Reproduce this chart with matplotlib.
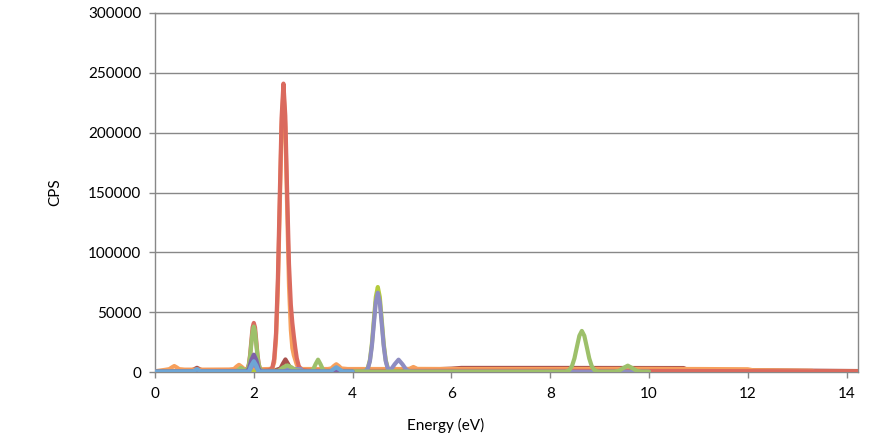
import matplotlib
matplotlib.use("Agg")
import matplotlib.pyplot as plt

plt.rcParams['font.family'] = ['Lato', 'DejaVu Sans']

# ---------------- data (energy in eV, counts per second) ----------------
e_darkred = [0.0, 0.7, 0.78, 0.85, 0.92, 1.0, 2.4, 2.54, 2.59, 2.64, 2.69, 2.74, 2.85,
             5.0, 6.0, 6.2, 8.0, 10.7, 10.8, 12.0, 14.24]
c_darkred = [500, 800, 2000, 3500, 2000, 800, 1000, 3000, 7000, 10500, 7000, 3000, 1200,
             1200, 2800, 3400, 3400, 3300, 1500, 1500, 800]

e_orange = [0.0, 0.2, 0.29, 0.34, 0.39, 0.44, 0.49, 0.6, 1.0, 1.5, 1.6, 1.65, 1.7, 1.75, 1.8,
            1.9, 2.0, 2.1, 2.3, 2.375, 2.4125, 2.45, 2.4875, 2.525, 2.5625, 2.6, 2.6375,
            2.675, 2.7125, 2.75, 2.78, 2.81, 2.84, 2.87, 2.91, 3.0, 3.5, 3.57, 3.62, 3.67,
            3.72, 3.77, 3.9, 5.0, 5.15, 5.23, 5.31, 6.0, 8.0, 10.0, 11.0, 12.0, 12.1,
            13.3, 13.35, 14.24]
c_orange = [600, 1800, 2400, 3800, 5000, 3800, 2400, 2000, 2000, 2100, 2500, 4500, 6000, 4500, 2600,
            2300, 3000, 2300, 2500, 3000, 8100, 27300, 70000, 137000, 205000, 235000, 205000,
            137000, 72000, 35000, 20000, 14000, 10000, 6000, 3000, 2500, 2500, 3000, 5000, 6500,
            5000, 3000, 2500, 2500, 2600, 4200, 2600, 2500, 2500, 2600, 2500, 2300, 1500,
            1000, 300, 300]

e_red = [0.0, 0.5, 1.0, 1.5, 1.8, 1.85, 1.875, 1.9, 1.925, 1.95, 1.975, 2.0, 2.025, 2.05, 2.075,
         2.1, 2.125, 2.15, 2.2, 2.3, 2.34, 2.375, 2.4125, 2.45, 2.4875, 2.525, 2.5625, 2.6,
         2.6375, 2.675, 2.7125, 2.75, 2.78, 2.81, 2.84, 2.87, 2.91, 2.96, 3.0, 3.1, 3.5, 4.0,
         5.0, 6.0, 8.0, 10.0, 12.0, 14.24]
c_red = [400, 800, 900, 900, 1000, 1450, 2800, 6540, 14300, 25900, 37200, 41000, 37200, 25900, 14300,
         6540, 2800, 1450, 1200, 1500, 2200, 3500, 11000, 32500, 78300, 146300, 212600, 241000,
         214000, 150000, 90000, 56000, 41000, 30000, 20000, 11500, 5000, 2000, 1500, 1200, 1000, 900,
         900, 1000, 1000, 900, 700, 500]

e_lime = [0.0, 4.2, 4.27, 4.31, 4.35, 4.39, 4.43, 4.47, 4.51, 4.55, 4.59, 4.63,
          4.67, 4.71, 4.75, 4.85, 5.0]
c_lime = [300, 500, 1280, 3600, 10000, 23400, 43300, 62700, 71000, 62700, 43300, 23400,
          10000, 3600, 1280, 500, 300]

e_lavender = [0.0, 1.9, 1.95, 2.0, 2.05, 2.1, 2.55, 2.62, 2.95, 3.0, 4.2, 4.27, 4.31, 4.35,
              4.39, 4.43, 4.47, 4.51, 4.55, 4.59, 4.63, 4.67, 4.71, 4.77,
              4.85, 4.93, 5.01, 5.09, 5.17, 5.5, 10.0]
c_lavender = [200, 300, 4000, 7000, 4000, 300, 300, 2500, 2500, 300, 200, 930, 3100, 9100,
              21600, 40200, 58400, 66200, 58400, 40200, 21600, 9100, 3100, 1700,
              6400, 10300, 6400, 1650, 400, 200, 200]

e_green = [0.0, 1.5, 1.65, 1.74, 1.83, 1.85, 1.875, 1.9, 1.925, 1.95, 1.975, 2.0, 2.025, 2.05,
           2.075, 2.1, 2.125, 2.15, 2.2, 2.5, 2.6, 2.68, 2.76, 2.85, 3.0, 3.15, 3.2, 3.25, 3.3,
           3.35, 3.4, 3.45, 3.6, 8.3, 8.34, 8.39, 8.44, 8.49, 8.54, 8.59, 8.64, 8.69,
           8.74, 8.79, 8.84, 8.89, 8.94, 9.0, 9.3, 9.39, 9.48, 9.57, 9.66, 9.75, 9.84,
           10.0]
c_green = [100, 300, 600, 3500, 800, 1410, 2630, 6000, 13000, 23460, 33600, 38000, 33600, 23460,
           13000, 6000, 2630, 1410, 800, 1000, 4000, 5500, 4000, 1500, 600, 700, 2000, 6500, 10300,
           6500, 2000, 700, 300, 300, 670, 1800, 4900, 11350, 20940, 30300, 34300, 30300,
           20940, 11350, 4900, 1800, 670, 300, 350, 1000, 3300, 5300, 3300, 1000, 350,
           300]

e_purple = [0.0, 1.85, 1.9, 1.95, 2.0, 2.05, 2.1, 2.15, 4.0]
c_purple = [300, 500, 2400, 10000, 14500, 10000, 2400, 500, 300]

e_blue = [0.0, 0.78, 0.85, 0.92, 1.9, 1.95, 2.0, 2.05, 2.1, 3.55, 3.6, 3.67, 3.74, 3.8, 4.0]
c_blue = [200, 500, 2500, 500, 300, 5500, 9000, 5500, 300, 300, 2000, 4000, 2000, 300, 200]

series = [
    (e_darkred, c_darkred, '#A8504C'),
    (e_orange, c_orange, '#F7A05C'),
    (e_red, c_red, '#DA6A5E'),
    (e_lime, c_lime, '#B4CB3C'),
    (e_lavender, c_lavender, '#8E8DC2'),
    (e_green, c_green, '#9DC06A'),
    (e_purple, c_purple, '#7D62A8'),
    (e_blue, c_blue, '#6DA6D6'),
]

x_ticks = [0, 2, 4, 6, 8, 10, 12, 14]
y_ticks = [0, 50000, 100000, 150000, 200000, 250000, 300000]

# ---------------- figure ----------------
W, H = 879, 438
fig = plt.figure(figsize=(W / 100, H / 100), dpi=100)
fig.patch.set_facecolor('white')
ax = fig.add_axes([155 / W, 66 / H, (858 - 155) / W, (372 - 13) / H])

for e, c, col in series:
    ax.plot(e, c, color=col, lw=3.0, solid_joinstyle='round', solid_capstyle='round', zorder=3)

ax.set_xlim(0, 14.23)
ax.set_ylim(0, 300000)
ax.set_xticks(x_ticks)
ax.set_yticks(y_ticks)
ax.set_xticklabels([str(t) for t in x_ticks])
ax.set_yticklabels([str(t) for t in y_ticks])

ax.set_axisbelow(True)
ax.yaxis.grid(True, color='#888888', lw=1.0)
for s in ax.spines.values():
    s.set_color('#888888')
    s.set_linewidth(1.0)

ax.tick_params(axis='both', direction='out', length=4, width=1, color='#888888',
               labelsize=11, labelcolor='black')
ax.tick_params(axis='y', pad=6)
ax.tick_params(axis='x', pad=7)

fig.text(446 / W, 1 - 425 / H, 'Energy (eV)', ha='center', va='center', fontsize=11)
fig.text(55 / W, 1 - 192 / H, 'CPS', ha='center', va='center', rotation=90, fontsize=11)

fig.savefig('out.png', dpi=100, facecolor='white')
